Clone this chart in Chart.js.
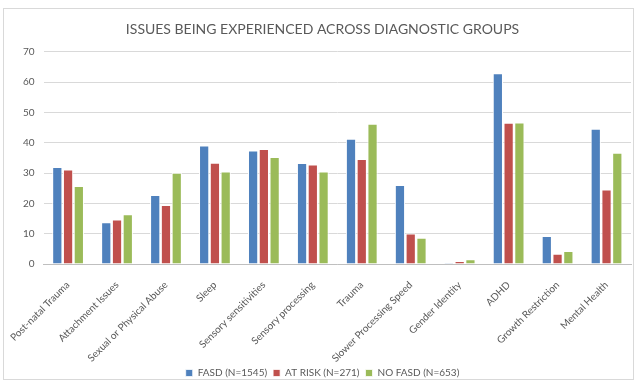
<!DOCTYPE html>
<html>
<head>
<meta charset="utf-8">
<script src="https://cdn.jsdelivr.net/npm/chart.js@4"></script>
<style>
html,body{margin:0;padding:0;background:#fff;}
#wrap{position:relative;width:635px;height:385px;}
#frame{position:absolute;left:3px;top:8px;width:629px;height:370px;border:1px solid #d9d9d9;pointer-events:none;}
</style>
</head>
<body>
<div id="wrap">
<canvas id="c" width="635" height="385"></canvas>
<div id="frame"></div>
</div>
<script>
const categories = ["Post-natal Trauma","Attachment Issues","Sexual or Physical Abuse","Sleep","Sensory sensitivities","Sensory processing","Trauma","Slower Processing Speed","Gender Identity","ADHD","Growth Restriction","Mental Health"];
const fasd = [32.0,13.8,22.8,39.1,37.4,33.3,41.3,26.1,0.4,62.9,9.2,44.6];
const atRisk = [31.2,14.7,19.5,33.4,37.9,32.8,34.6,10.1,1.0,46.6,3.4,24.6];
const noFasd = [25.7,16.4,30.1,30.5,35.3,30.5,46.3,8.7,1.6,46.7,4.3,36.7];
const seriesNames = ["FASD (N=1545)","AT RISK (N=271)","NO FASD (N=653)"];
const yTicks = [0,10,20,30,40,50,60,70];
const titleText = "ISSUES BEING EXPERIENCED ACROSS DIAGNOSTIC GROUPS";

const font = "Lato, 'Open Sans', sans-serif";
const colors = ["#4F81BD","#C0504D","#9BBB59"];
const mk = (label,data,i)=>({label,data,backgroundColor:colors[i],borderColor:"#ffffff",borderWidth:{left:1,right:1,top:1,bottom:0},categoryPercentage:0.66,barPercentage:0.95});

new Chart(document.getElementById('c'),{
  type:'bar',
  data:{labels:categories,datasets:[mk(seriesNames[0],fasd,0),mk(seriesNames[1],atRisk,1),mk(seriesNames[2],noFasd,2)]},
  options:{
    responsive:false,animation:false,
    layout:{padding:{left:14,right:4,top:10,bottom:-3}},
    plugins:{
      title:{display:true,text:titleText,color:"#595959",font:{family:font,size:14,weight:'normal'},padding:{top:11,bottom:14}},
      legend:{position:'bottom',labels:{color:"#595959",font:{family:font,size:10},boxWidth:7,boxHeight:7,padding:6}},
      tooltip:{enabled:false}
    },
    scales:{
      y:{min:0,max:70,afterBuildTicks:(ax)=>{ax.ticks=yTicks.map(v=>({value:v}));},
        ticks:{color:"#595959",font:{family:font,size:10},padding:9},
        grid:{color:"#d9d9d9",drawTicks:false},border:{display:false}},
      x:{ticks:{color:"#595959",font:{family:font,size:10},minRotation:45,maxRotation:45,padding:7},
        afterFit:(s)=>{s.height=98;},
        grid:{display:false},border:{color:"#bfbfbf"}}
    }
  }
});
</script>
</body>
</html>
